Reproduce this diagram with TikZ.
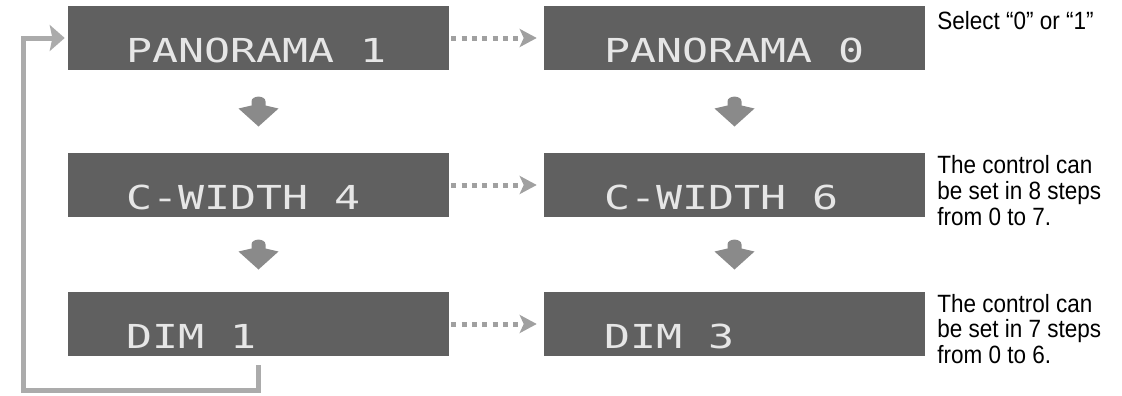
\documentclass[tikz,border=0pt]{standalone}
\usepackage{fontspec}
\setmainfont{Liberation Sans}[FakeStretch=0.9]
\newfontfamily\dispfont{DejaVu Sans Mono}[FakeStretch=1.31]
\usetikzlibrary{calc,arrows.meta}
\definecolor{boxgray}{HTML}{606060}
\definecolor{dispwhite}{HTML}{E6E6E6}
\definecolor{arrowgray}{HTML}{8A8A8A}
\definecolor{dotgray}{HTML}{A0A0A0}
\definecolor{fbgray}{HTML}{ABABAB}
\tikzset{
  dispbox/.style={rectangle, fill=boxgray, draw=none, minimum width=285.75pt, minimum height=48pt, inner sep=0pt},
  disptext/.style={inner sep=0pt, text=dispwhite, font=\dispfont\fontsize{24.75pt}{25pt}\selectfont},
  note/.style={inner sep=0pt, text=black, font=\fontsize{18.75pt}{19pt}\selectfont},
  dotarrow/.style={draw=dotgray, line width=3.75pt, dash pattern=on 3.75pt off 4pt,
    -{Stealth[length=12.75pt, width=13.5pt, inset=3pt, fill=dotgray]},
    shorten <=1.5pt, shorten >=5.25pt},
  fbline/.style={draw=fbgray, line width=3.75pt,
    -{Stealth[length=11.25pt, width=19.5pt, inset=2pt, fill=fbgray]}, shorten >=2.25pt},
  downarr/.pic={\fill[arrowgray] (-7,-6) -- (-7,-10) .. controls (-7,-16.5) and (7,-16.5) .. (7,-10) -- (7,-6) -- (20,-3) -- (0,15) -- (-20,-3) -- cycle;}
}
\begin{document}
\begin{tikzpicture}[x=0.75pt, y=-0.75pt]
\useasboundingbox (0,0) rectangle (1122,396);
% display boxes
\node[dispbox] (l1) at (258.5,38) {};
\node[dispbox] (l2) at (258.5,185) {};
\node[dispbox] (l3) at (258.5,324) {};
\node[dispbox] (r1) at (734.5,38) {};
\node[dispbox] (r2) at (734.5,185) {};
\node[dispbox] (r3) at (734.5,324) {};
% display texts
\node[disptext, anchor=base west] (tl1) at ($(l1.north west)+(58,57)$) {PANORAMA 1};
\node[disptext, anchor=base west] (tl2) at ($(l2.north west)+(58,57)$) {C-WIDTH 4};
\node[disptext, anchor=base west] (tl3) at ($(l3.north west)+(58,57)$) {DIM 1};
\node[disptext, anchor=base west] (tr1) at ($(r1.north west)+(60,57)$) {PANORAMA 0};
\node[disptext, anchor=base west] (tr2) at ($(r2.north west)+(60,57)$) {C-WIDTH 6};
\node[disptext, anchor=base west] (tr3) at ($(r3.north west)+(60,57)$) {DIM 3};
% down arrows
\pic at ($(l1.south)!0.5!(l2.north)$) {downarr};
\pic at ($(l2.south)!0.5!(l3.north)$) {downarr};
\pic at ($(r1.south)!0.5!(r2.north)$) {downarr};
\pic at ($(r2.south)!0.5!(r3.north)$) {downarr};
% dotted arrows
\draw[dotarrow] (l1.east) -- (r1.west);
\draw[dotarrow] (l2.east) -- (r2.west);
\draw[dotarrow] (l3.east) -- (r3.west);
% feedback loop
\coordinate (fb0) at (258.5,365);
\coordinate (fb1) at (23.5,390.5);
\draw[fbline] (fb0) |- (fb1) |- (l1.west);
% notes
\node[note, anchor=base west] (n1) at (937,30) {Select “0” or “1”};
\node[note, anchor=base west] (n2a) at (937,173) {The control can};
\node[note, anchor=base west] (n2b) at (937,199) {be set in 8 steps};
\node[note, anchor=base west] (n2c) at (937,225) {from 0 to 7.};
\node[note, anchor=base west] (n3a) at (937,312) {The control can};
\node[note, anchor=base west] (n3b) at (937,337.5) {be set in 7 steps};
\node[note, anchor=base west] (n3c) at (937,363) {from 0 to 6.};
\end{tikzpicture}
\end{document}
